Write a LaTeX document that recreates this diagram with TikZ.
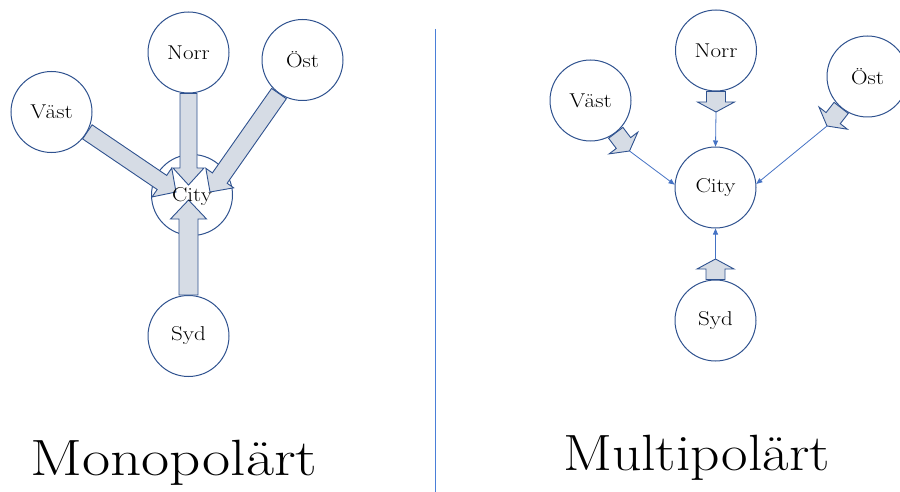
\documentclass[tikz,border=0pt]{standalone}
\usepackage{fontspec}
\usetikzlibrary{calc,arrows.meta}
\definecolor{cborder}{HTML}{2F528F}
\definecolor{afill}{HTML}{D6DCE5}
\definecolor{lblue}{HTML}{4472C4}
\definecolor{divcol}{HTML}{4A7FD8}
\newcommand\lt[1]{\scalebox{1.15}[1]{#1}}
\tikzset{
  place/.style={circle, draw=cborder, line width=1pt, fill=white, minimum size=81pt, inner sep=0pt, font=\fontsize{20}{22}\selectfont},
  lbl/.style={inner sep=0pt, font=\fontsize{20}{22}\selectfont},
  blockarrow/.style={draw=cborder, fill=afill, line width=0.9pt, line join=miter},
  thinconn/.style={draw=lblue, line width=0.8pt, -{Triangle[length=6pt,width=5pt]}},
  bigtitle/.style={anchor=base, inner sep=0pt, font=\fontsize{51}{57}\selectfont},
}
\newcommand\blockarr[5]{%
  \coordinate (bah) at ($(#2)!#5!(#1)$);
  \draw[blockarrow] ($(#1)!#3!90:(#2)$) -- ($(bah)!#3!90:(#2)$) -- ($(bah)!#4!90:(#2)$) -- (#2) -- ($(bah)!#4!-90:(#2)$) -- ($(bah)!#3!-90:(#2)$) -- ($(#1)!#3!-90:(#2)$) -- cycle;
}
\begin{document}
\begin{tikzpicture}[x=1pt,y=-1pt]
\useasboundingbox (0,0) rectangle (900,492);
\clip (0,0) rectangle (900,492);

% ---------- left: Monopolärt ----------
\node[place] (cityL) at (192,195) {};
\node[place] (norrL) at (188.5,52.5) {\lt{Norr}};
\node[place] (ostL) at (302.5,60) {\lt{Öst}};
\node[place] (vastL) at (51.5,112) {\lt{Väst}};
\node[place] (sydL) at (188.5,336) {\lt{Syd}};

\coordinate (tipVL) at (176,192);
\coordinate (tipOL) at (210,192);
\coordinate (tipNL) at (188.5,185);
\coordinate (tipSL) at (188.5,200);

\blockarr{vastL.-29}{tipVL}{8.5pt}{17.5pt}{17pt}
\blockarr{ostL.-125}{tipOL}{9pt}{17pt}{17pt}
\blockarr{norrL.south}{tipNL}{8.5pt}{15.5pt}{17pt}
\blockarr{sydL.north}{tipSL}{9.5pt}{18pt}{19pt}

\node[lbl] (cityLlbl) at (192,197) {\lt{City}};

\node[bigtitle] (mono) at (174,475) {\scalebox{1.2}[1]{Monopolärt}};

% ---------- divider ----------
\coordinate (divtop) at (435.5,29);
\coordinate (divbot) at (435.5,492);
\draw[divcol, line width=1.4pt] (divtop) -- (divbot);

% ---------- right: Multipolärt ----------
\node[place] (cityR) at (715.5,187.5) {\lt{City}};
\node[place] (norrR) at (716,50.5) {\lt{Norr}};
\node[place] (ostR) at (867.5,76.5) {\lt{Öst}};
\node[place] (vastR) at (590.5,100.5) {\lt{Väst}};
\node[place] (sydR) at (715.5,320.5) {\lt{Syd}};

\coordinate (tipVR) at (629.5,151);
\coordinate (tipOR) at (827,126);
\coordinate (tipNR) at (716,112);
\coordinate (tipSR) at (715.5,259);

\blockarr{vastR.-52}{tipVR}{9pt}{18pt}{10pt}
\blockarr{ostR.-130}{tipOR}{9pt}{18pt}{10pt}
\blockarr{norrR.south}{tipNR}{9.5pt}{18.5pt}{10pt}
\blockarr{sydR.north}{tipSR}{9.5pt}{18.5pt}{10pt}

\draw[thinconn] (tipNR) -- (cityR.north);
\draw[thinconn] (tipSR) -- (cityR.south);
\draw[thinconn] (tipVR) -- (cityR.176);
\draw[thinconn] (tipOR) -- (cityR.5);

\node[bigtitle] (multi) at (696.5,470) {\scalebox{1.13}[1]{Multipolärt}};
\end{tikzpicture}
\end{document}
